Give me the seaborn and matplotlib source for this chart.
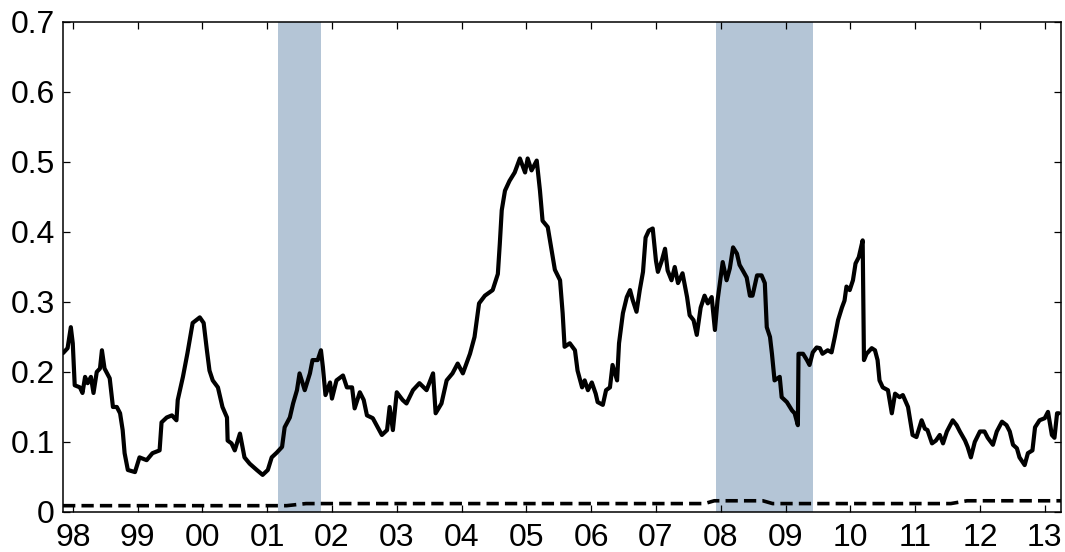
import numpy as np
import pandas as pd
import matplotlib
matplotlib.use("Agg")
import matplotlib.pyplot as plt
import seaborn as sns

# Solid series: (decimal year, value)
years = [
    1997.85, 1997.92, 1997.97, 1998.00, 1998.03, 1998.11, 1998.15, 1998.19, 1998.23, 1998.28,
    1998.32, 1998.37, 1998.42, 1998.45, 1998.49, 1998.57, 1998.62, 1998.68, 1998.73, 1998.77,
    1998.80, 1998.85, 1998.96, 1999.03, 1999.14, 1999.23, 1999.34, 1999.37, 1999.45, 1999.53,
    1999.60, 1999.62, 1999.70, 1999.77, 1999.85, 1999.96, 2000.02, 2000.07, 2000.11, 2000.16,
    2000.24, 2000.31, 2000.38, 2000.39, 2000.45, 2000.50, 2000.58, 2000.65, 2000.73, 2000.84,
    2000.93, 2001.01, 2001.07, 2001.15, 2001.23, 2001.27, 2001.35, 2001.40, 2001.46, 2001.50,
    2001.58, 2001.66, 2001.70, 2001.78, 2001.83, 2001.86, 2001.90, 2001.97, 2002.00, 2002.07,
    2002.17, 2002.23, 2002.31, 2002.35, 2002.43, 2002.49, 2002.54, 2002.63, 2002.77, 2002.85,
    2002.89, 2002.94, 2003.00, 2003.09, 2003.15, 2003.25, 2003.35, 2003.46, 2003.56, 2003.60,
    2003.69, 2003.77, 2003.86, 2003.94, 2004.02, 2004.13, 2004.20, 2004.27, 2004.36, 2004.48,
    2004.56, 2004.59, 2004.62, 2004.67, 2004.74, 2004.82, 2004.90, 2004.98, 2005.02, 2005.08,
    2005.16, 2005.21, 2005.25, 2005.33, 2005.39, 2005.44, 2005.52, 2005.56, 2005.59, 2005.67,
    2005.75, 2005.79, 2005.86, 2005.90, 2005.95, 2006.01, 2006.07, 2006.10, 2006.18, 2006.23,
    2006.29, 2006.33, 2006.40, 2006.43, 2006.49, 2006.55, 2006.60, 2006.64, 2006.70, 2006.75,
    2006.80, 2006.84, 2006.89, 2006.95, 2007.00, 2007.03, 2007.09, 2007.14, 2007.18, 2007.24,
    2007.29, 2007.34, 2007.41, 2007.48, 2007.52, 2007.58, 2007.63, 2007.69, 2007.75, 2007.80,
    2007.86, 2007.91, 2007.95, 2008.03, 2008.09, 2008.14, 2008.19, 2008.25, 2008.29, 2008.34,
    2008.40, 2008.45, 2008.49, 2008.56, 2008.63, 2008.68, 2008.71, 2008.76, 2008.79, 2008.83,
    2008.91, 2008.94, 2009.02, 2009.10, 2009.14, 2009.19, 2009.20, 2009.27, 2009.33, 2009.37,
    2009.42, 2009.48, 2009.53, 2009.57, 2009.65, 2009.71, 2009.76, 2009.81, 2009.87, 2009.91,
    2009.94, 2009.99, 2010.04, 2010.08, 2010.13, 2010.19, 2010.21, 2010.25, 2010.33, 2010.38,
    2010.42, 2010.45, 2010.50, 2010.58, 2010.64, 2010.69, 2010.76, 2010.81, 2010.89, 2010.96,
    2011.02, 2011.10, 2011.15, 2011.19, 2011.26, 2011.32, 2011.38, 2011.43, 2011.49, 2011.58,
    2011.64, 2011.69, 2011.77, 2011.81, 2011.86, 2011.92, 2012.00, 2012.07, 2012.12, 2012.20,
    2012.26, 2012.34, 2012.41, 2012.46, 2012.51, 2012.57, 2012.61, 2012.69, 2012.74, 2012.81,
    2012.85, 2012.92, 2013.00, 2013.05, 2013.11, 2013.15, 2013.19, 2013.22,
]
values = [
    0.227, 0.234, 0.264, 0.241, 0.181, 0.178, 0.170, 0.193, 0.184, 0.193,
    0.170, 0.200, 0.205, 0.231, 0.205, 0.191, 0.150, 0.150, 0.141, 0.117,
    0.084, 0.060, 0.057, 0.078, 0.074, 0.084, 0.088, 0.128, 0.135, 0.138,
    0.131, 0.160, 0.193, 0.227, 0.270, 0.278, 0.270, 0.231, 0.202, 0.188,
    0.178, 0.150, 0.135, 0.102, 0.098, 0.088, 0.112, 0.078, 0.069, 0.060,
    0.053, 0.060, 0.078, 0.085, 0.093, 0.121, 0.135, 0.155, 0.174, 0.198,
    0.174, 0.198, 0.217, 0.217, 0.231, 0.207, 0.167, 0.185, 0.162, 0.188,
    0.195, 0.178, 0.178, 0.148, 0.171, 0.160, 0.138, 0.134, 0.110, 0.117,
    0.150, 0.117, 0.171, 0.160, 0.155, 0.174, 0.184, 0.174, 0.198, 0.141,
    0.155, 0.188, 0.198, 0.212, 0.198, 0.226, 0.250, 0.298, 0.309, 0.317,
    0.340, 0.383, 0.431, 0.459, 0.473, 0.485, 0.505, 0.485, 0.505, 0.488,
    0.502, 0.459, 0.416, 0.407, 0.374, 0.346, 0.331, 0.284, 0.236, 0.241,
    0.231, 0.202, 0.178, 0.188, 0.174, 0.185, 0.169, 0.157, 0.153, 0.174,
    0.178, 0.210, 0.188, 0.241, 0.284, 0.307, 0.317, 0.303, 0.286, 0.317,
    0.343, 0.392, 0.402, 0.405, 0.359, 0.343, 0.359, 0.376, 0.345, 0.331,
    0.350, 0.327, 0.341, 0.307, 0.281, 0.274, 0.253, 0.292, 0.309, 0.298,
    0.307, 0.260, 0.302, 0.357, 0.331, 0.348, 0.378, 0.369, 0.353, 0.345,
    0.335, 0.309, 0.309, 0.338, 0.338, 0.327, 0.264, 0.250, 0.226, 0.188,
    0.193, 0.164, 0.157, 0.145, 0.141, 0.124, 0.226, 0.226, 0.217, 0.210,
    0.228, 0.235, 0.234, 0.226, 0.231, 0.228, 0.250, 0.274, 0.292, 0.302,
    0.322, 0.317, 0.331, 0.355, 0.364, 0.388, 0.217, 0.226, 0.234, 0.231,
    0.217, 0.188, 0.178, 0.174, 0.141, 0.169, 0.164, 0.167, 0.150, 0.110,
    0.107, 0.131, 0.119, 0.117, 0.098, 0.102, 0.110, 0.098, 0.115, 0.131,
    0.124, 0.115, 0.102, 0.093, 0.078, 0.100, 0.115, 0.115, 0.106, 0.096,
    0.115, 0.129, 0.124, 0.115, 0.096, 0.091, 0.078, 0.067, 0.084, 0.088,
    0.121, 0.131, 0.134, 0.143, 0.110, 0.106, 0.141, 0.141,
]

# Dashed series
dash_years = [1997.85, 2001.30, 2001.60, 2007.75, 2007.90, 2008.65, 2008.80, 2011.55, 2011.80, 2013.25]
dash_values = [0.009, 0.009, 0.012, 0.012, 0.016, 0.016, 0.012, 0.012, 0.016, 0.016]

# Shaded periods (start, end)
shade_periods = [(2001.17, 2001.83), (2007.92, 2009.42)]

tick_years = list(range(1998, 2014))
tick_labels = ["98", "99", "00", "01", "02", "03", "04", "05", "06", "07",
               "08", "09", "10", "11", "12", "13"]
y_ticks = [0, 0.1, 0.2, 0.3, 0.4, 0.5, 0.6, 0.7]
y_labels = ["0", "0.1", "0.2", "0.3", "0.4", "0.5", "0.6", "0.7"]

sns.set_style("ticks")
plt.rcParams["font.family"] = ["Liberation Sans", "DejaVu Sans"]

fig = plt.figure(figsize=(10.65, 5.52), dpi=100)
ax = fig.add_axes([0.0592, 0.0725, 0.9370, 0.8877])

for start, end in shade_periods:
    ax.axvspan(start, end, color="#b4c5d6", lw=0, zorder=0)

main_df = pd.DataFrame({"year": years, "value": values})
dash_df = pd.DataFrame({"year": dash_years, "value": dash_values})

sns.lineplot(data=main_df, x="year", y="value", ax=ax, color="black",
             linewidth=3.0, estimator=None, sort=False, zorder=3)
sns.lineplot(data=dash_df, x="year", y="value", ax=ax, color="black",
             linewidth=2.6, estimator=None, sort=False, zorder=3)
ax.lines[-1].set_dashes([3.4, 1.7])

ax.set_xlim(1997.85, 2013.25)
ax.set_ylim(0, 0.7)
ax.set_xticks(tick_years)
ax.set_xticklabels(tick_labels)
ax.set_yticks(y_ticks)
ax.set_yticklabels(y_labels)
ax.set_xlabel("")
ax.set_ylabel("")

ax.tick_params(direction="in", length=5, width=0.9, labelsize=23, colors="black",
               top=True, right=True, bottom=True, left=True)
ax.tick_params(axis="x", pad=8)
ax.tick_params(axis="y", pad=6)
for side in ["left", "right", "top", "bottom"]:
    ax.spines[side].set_visible(True)
    ax.spines[side].set_linewidth(1.1)
    ax.spines[side].set_color("black")

fig.savefig("out.png", dpi=100)
